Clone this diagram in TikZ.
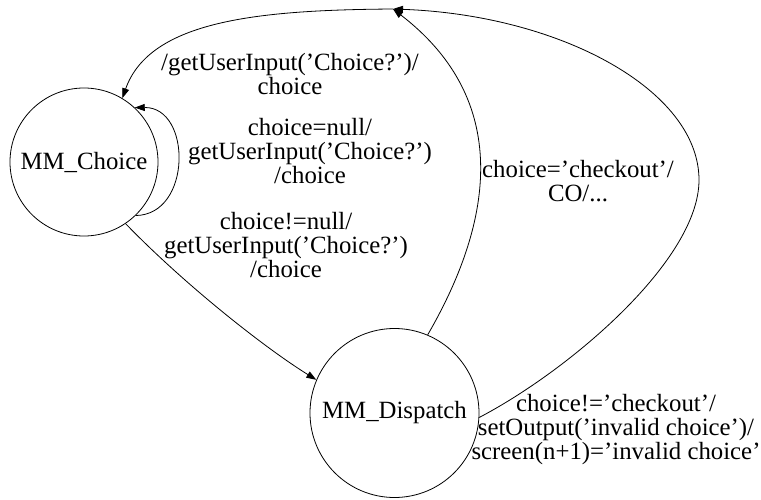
\documentclass[tikz,border=0pt]{standalone}
\usepackage{fontspec}
\setmainfont{Liberation Serif}
\usetikzlibrary{arrows.meta}
\begin{document}
\begin{tikzpicture}[x=1pt,y=-1pt,
  txt/.style={font=\fontsize{24.8}{24}\selectfont},
  state/.style={circle,draw,line width=0.8pt,inner sep=0pt,txt},
  edge/.style={draw,line width=0.8pt,-{Triangle[length=10pt,width=7pt]}},
  lbl/.style={align=center,inner sep=0pt,txt}]
\useasboundingbox (0,0) rectangle (761,500);

% states
\node[state,minimum size=148pt] (choice) at (84,162) {MM\_Choice};
\node[state,minimum size=169pt] (dispatch) at (394.5,413) {MM\_Dispatch};
\coordinate (top) at (393,9);

% transitions
\draw[edge] (top) .. controls (260,10) and (150,20) .. (choice.59);
\draw[edge] (choice.-46) .. controls (192,215) and (192,107) .. (choice.47);
\draw[edge] (choice.-56) .. controls (185,285) and (265,348) .. (dispatch.157);
\draw[edge] (dispatch.67) .. controls (500,210) and (505,95) .. (top);
\draw[edge] (dispatch.-3) .. controls (570,370) and (699,260) .. (699,180)
            .. controls (699,90) and (560,15) .. (top);

% labels
\node[lbl] (l1) at (290,74) {/getUserInput('Choice?')/\\choice};
\node[lbl] (l2) at (310,151) {choice=null/\\getUserInput('Choice?')\\/choice};
\node[lbl] (l3) at (286,245) {choice!=null/\\getUserInput('Choice?')\\/choice};
\node[lbl] (l4) at (578,181) {choice='checkout'/\\CO/...};
\node[lbl] (l5) at (616,430) {choice!='checkout'/\\setOutput('invalid choice')/\\screen(n+1)='invalid choice'};
\end{tikzpicture}
\end{document}
